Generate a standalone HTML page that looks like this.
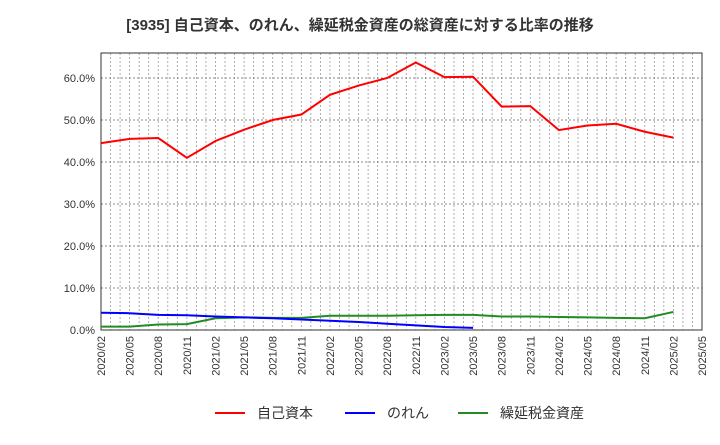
<!DOCTYPE html>
<html><head><meta charset="utf-8"><style>
body{margin:0;background:#fff;font-family:"Liberation Sans","Noto Sans CJK JP",sans-serif}
</style></head><body>
<svg id="c" width="720" height="440" xmlns="http://www.w3.org/2000/svg"></svg>
<script>
const categories=["2020/02","2020/05","2020/08","2020/11","2021/02","2021/05","2021/08","2021/11","2022/02","2022/05","2022/08","2022/11","2023/02","2023/05","2023/08","2023/11","2024/02","2024/05","2024/08","2024/11","2025/02","2025/05"];
const equityRatio=[44.5,45.5,45.7,41,45,47.7,50,51.3,56,58.2,60,63.7,60.2,60.3,53.2,53.3,47.6,48.7,49.1,47.2,45.8];
const goodwill=[4.1,4.0,3.6,3.5,3.2,3.0,2.8,2.5,2.2,1.9,1.5,1.1,0.7,0.5];
const deferredTax=[0.8,0.8,1.3,1.4,2.8,3.0,2.9,2.9,3.4,3.4,3.4,3.5,3.6,3.6,3.2,3.2,3.1,3.0,2.9,2.8,4.3];
const yTicks=[0,10,20,30,40,50,60];
const L=101,R=702,T=53,B=330,Y0=330,PX10=42;
const NS="http://www.w3.org/2000/svg";
const svg=document.getElementById('c');
const xs=i=>L+(R-L)*i/21;
const ys=v=>Y0-v*PX10/10;
function el(t,a,p){const e=document.createElementNS(NS,t);for(const k in a)e.setAttribute(k,a[k]);(p||svg).appendChild(e);return e;}
const t=el('text',{x:360,y:30,'text-anchor':'middle','font-size':15,'font-weight':'bold',fill:'#333'});


t.textContent="[3935]  自己資本、のれん、繰延税金資産の総資産に対する比率の推移";
const g=el('g',{});


for(let m=1;m<63;m++){const x=L+(R-L)*m/63;el('line',{x1:x,x2:x,y1:T,y2:B,stroke:'#999','stroke-dasharray':'2,2','stroke-width':0.8},g);}
yTicks.forEach(v=>{if(v>0)el('line',{x1:L,x2:R,y1:ys(v),y2:ys(v),stroke:'#888','stroke-dasharray':'2,2','stroke-width':0.9},g);
const tx=el('text',{x:L-6,y:ys(v)+4,'text-anchor':'end','font-size':11,fill:'#333'});


tx.textContent=v.toFixed(1)+'%';});
categories.forEach((c,i)=>{const x=xs(i);const tx=el('text',{transform:`translate(${x+4},${B+6}) rotate(-90)`,'text-anchor':'end','font-size':11,fill:'#333'});


tx.textContent=c;});
const fr=el('rect',{x:L,y:T,width:R-L,height:B-T,fill:'none',stroke:'#333'});


function line(d,col,name){const p=el('polyline',{points:d.map((v,i)=>xs(i)+','+ys(v)).join(' '),fill:'none',stroke:col,'stroke-width':2});

}
line(deferredTax,'#228b22','deferred-tax-line');
line(goodwill,'#0000ff','goodwill-line');
line(equityRatio,'#ff0000','equity-ratio-line');
const leg=[['自己資本','#ff0000',215],['のれん','#0000ff',345],['繰延税金資産','#228b22',458]];
leg.forEach(([n,c,x])=>{const lg=el('g',{});


el('line',{x1:x,x2:x+30,y1:413,y2:413,stroke:c,'stroke-width':2},lg);
const tx=el('text',{x:x+42,y:418,'font-size':14,fill:'#333'},lg);tx.textContent=n;});
</script>
</body></html>
